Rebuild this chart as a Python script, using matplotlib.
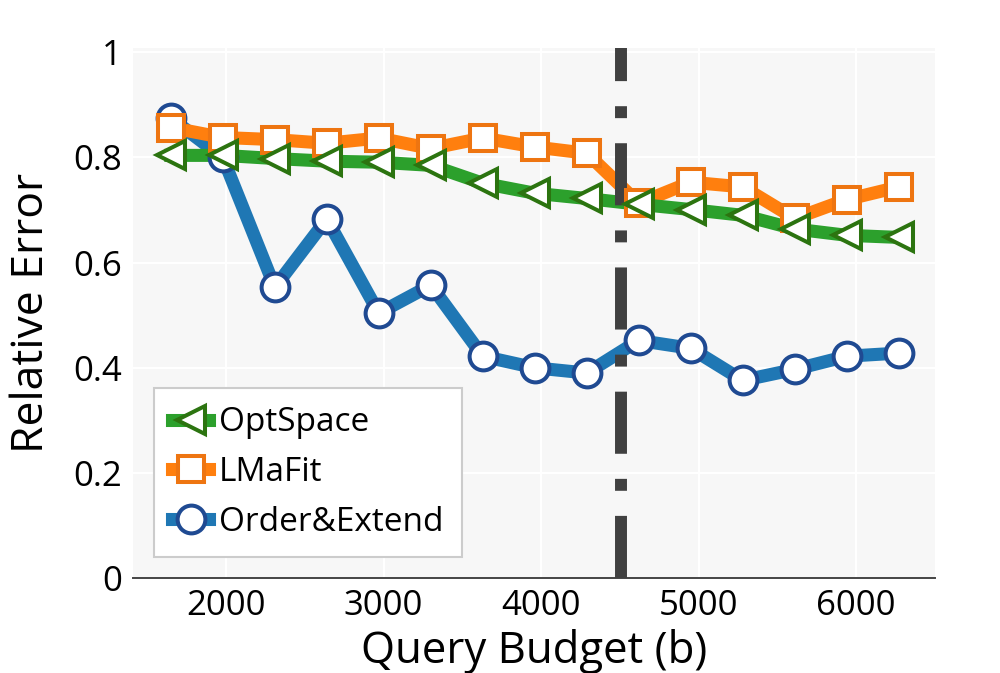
import numpy as np
import matplotlib
matplotlib.use('Agg')
import matplotlib.pyplot as plt
from matplotlib.lines import Line2D

plt.rcParams['font.family'] = ['Open Sans', 'DejaVu Sans']

# data
budget = [1650, 1980, 2310, 2640, 2970, 3300, 3630, 3960, 4290, 4620, 4950, 5280, 5610, 5940, 6270]
optspace = [0.804, 0.804, 0.798, 0.793, 0.791, 0.785, 0.751, 0.732, 0.722, 0.711, 0.701, 0.69, 0.664, 0.652, 0.648]
lmafit = [0.857, 0.838, 0.834, 0.827, 0.837, 0.817, 0.837, 0.82, 0.808, 0.713, 0.753, 0.744, 0.684, 0.72, 0.744]
order_extend = [0.875, 0.80, 0.553, 0.683, 0.504, 0.557, 0.422, 0.40, 0.39, 0.452, 0.437, 0.376, 0.397, 0.422, 0.428]
cutoff = 4510

x_ticks = [2000, 3000, 4000, 5000, 6000]
y_ticks = [0, 0.2, 0.4, 0.6, 0.8, 1]
y_ticklabels = ['0', '0.2', '0.4', '0.6', '0.8', '1']

series = [
    ('Order&Extend', order_extend, '#1f77b4', 'o', '#1f4a92', 20),
    ('LMaFit', lmafit, '#ff7f0e', 's', '#ee7511', 19),
    ('OptSpace', optspace, '#2ca02c', '<', '#2c7410', 20),
]

fig = plt.figure(figsize=(10, 6.73), dpi=100)
ax = fig.add_axes([0.133, 0.141, 0.802, 0.7875])
ax.set_facecolor('#f7f7f7')

lw = 9.4
for name, vals, col, mk, ecol, ms in series:
    ax.plot(budget, vals, color=col, lw=lw, solid_joinstyle='miter', zorder=2)

# budget cut-off line
ax.plot([cutoff, cutoff], [0, 1.01], color='#404040', lw=8.6,
        linestyle=(0, (5.2, 2.1, 1.0, 2.1)), dash_capstyle='butt', zorder=3)

for name, vals, col, mk, ecol, ms in series:
    ax.plot(budget, vals, linestyle='none', marker=mk, markersize=ms,
            markerfacecolor='white', markeredgecolor=ecol, markeredgewidth=2.9, zorder=4)

ax.set_xlim(1410, 6500)
ax.set_ylim(0, 1.008)
ax.set_xticks(x_ticks)
ax.set_yticks(y_ticks)
ax.set_yticklabels(y_ticklabels)
ax.grid(True, color='white', lw=1.6)
ax.set_axisbelow(True)
ax.tick_params(length=0, labelsize=25, pad=8)
for s in ['top', 'right', 'left']:
    ax.spines[s].set_visible(False)
ax.spines['bottom'].set_color('#444444')
ax.spines['bottom'].set_linewidth(1.4)

ax.set_xlabel('Query Budget (b)', fontsize=31.5, labelpad=4)
ax.set_ylabel('Relative Error', fontsize=32, labelpad=14)

handles = []
for name, vals, col, mk, ecol, ms in reversed(series):
    handles.append(Line2D([], [], color=col, lw=lw, marker=mk, markersize=ms,
                          markerfacecolor='white', markeredgecolor=ecol, markeredgewidth=2.9,
                          label=name))
leg = ax.legend(handles=handles, loc='lower left', bbox_to_anchor=(0.026, 0.04),
                fontsize=24, frameon=True, fancybox=False, handlelength=1.1,
                handletextpad=0.3, labelspacing=0.5,
                borderpad=0.55, borderaxespad=0)
leg.get_frame().set_edgecolor('#cccccc')
leg.get_frame().set_linewidth(1.5)
leg.get_frame().set_facecolor('white')
leg.get_frame().set_alpha(1)

fig.savefig('out.png', dpi=100)
